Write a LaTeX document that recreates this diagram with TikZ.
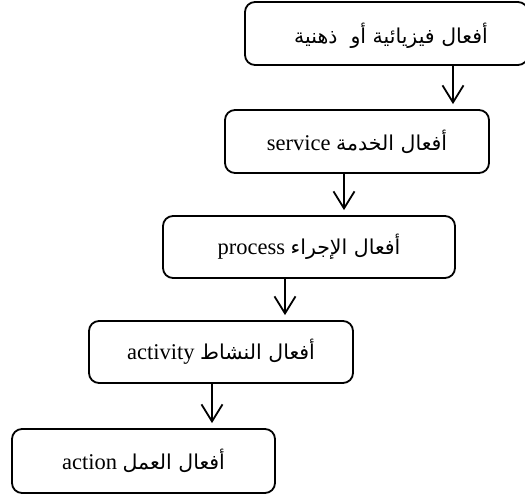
\documentclass[tikz,border=0pt]{standalone}
\usepackage{fontspec}
\setmainfont{Liberation Serif}
\newfontfamily\arabicfont[Script=Arabic]{DejaVu Sans}
\TeXXeTstate=1
\usetikzlibrary{arrows.meta}
\newcommand{\ar}[1]{{\arabicfont\fontsize{20.5}{24}\selectfont\beginR #1\endR}}
\tikzset{
  stage/.style={draw, line width=1.8pt, rounded corners=10pt, inner sep=0pt,
    font=\fontsize{22.5}{26}\selectfont},
  flow/.style={line width=1.8pt, -{Straight Barb[length=17pt,width=21pt,line width=1.8pt]}, shorten >=5pt}
}
\begin{document}
\begin{tikzpicture}[x=1pt,y=-1pt]
\useasboundingbox (0,0) rectangle (525,497);
\begin{scope}
\clip (0,0) rectangle (525,497);
\node[stage, minimum width=283pt, minimum height=63pt] (b1) at (386.5,33.5) {};
\end{scope}
\node[anchor=center] (t1) at (391,36) {\ar{أفعال فيزيائية أو\ \ ذهنية}};
\node[stage, minimum width=264pt, minimum height=63pt] (b2) at (357,141.5) {service \ar{أفعال الخدمة}};
\node[stage, minimum width=292pt, minimum height=62pt] (b3) at (309,247) {process \ar{أفعال الإجراء}};
\node[stage, minimum width=264pt, minimum height=62pt] (b4) at (221,352) {activity \ar{أفعال النشاط}};
\node[stage, minimum width=263pt, minimum height=64pt] (b5) at (143.5,461) {action \ar{أفعال العمل}};
\coordinate (c1) at (453,0);
\coordinate (c2) at (344,0);
\coordinate (c3) at (285,0);
\coordinate (c4) at (212,0);
\draw[flow] (b1.south -| c1) -- (b2.north -| c1);
\draw[flow] (b2.south -| c2) -- (b3.north -| c2);
\draw[flow] (b3.south -| c3) -- (b4.north -| c3);
\draw[flow] (b4.south -| c4) -- (b5.north -| c4);
\end{tikzpicture}
\end{document}
